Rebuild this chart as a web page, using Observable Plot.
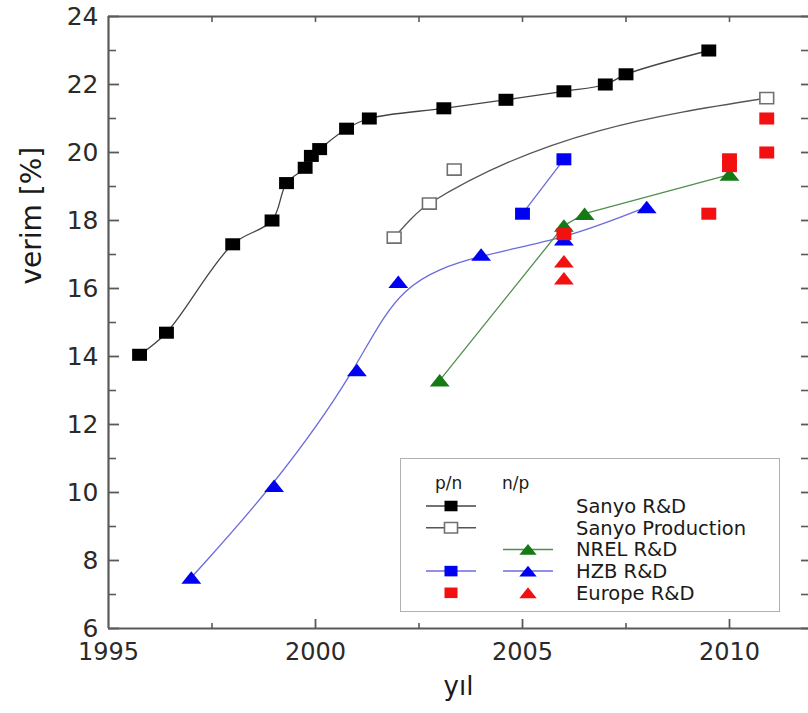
<!DOCTYPE html>
<html>
<head>
<meta charset="utf-8">
<script src="https://cdn.jsdelivr.net/npm/d3@7"></script>
<script src="https://cdn.jsdelivr.net/npm/@observablehq/plot@0.6"></script>
<style>
  body { margin: 0; background: #fff; }
  #wrap { position: relative; width: 808px; height: 713px; overflow: hidden; font-family: "DejaVu Sans", sans-serif; }
  #legend { position: absolute; left: 400px; top: 458px; width: 380px; height: 154px; border: 1.5px solid #b0b0b0; box-sizing: border-box; background: #fff; }
  #legend svg { position: absolute; left: 0; top: 0; }
</style>
</head>
<body>
<div id="wrap"><div id="legend"></div></div>
<script>
// ---- data ----
const sanyoRDYear = [1995.75, 1996.4, 1998.0, 1998.95, 1999.3, 1999.75, 1999.9, 2000.1, 2000.75, 2001.3, 2003.1, 2004.6, 2006.0, 2007.0, 2007.5, 2009.5];
const sanyoRDEff  = [14.05, 14.7, 17.3, 18.0, 19.1, 19.55, 19.9, 20.1, 20.7, 21.0, 21.3, 21.55, 21.8, 22.0, 22.3, 23.0];
const sanyoProdYear = [2001.9, 2002.75, 2003.35, 2010.9];
const sanyoProdEff  = [17.5, 18.5, 19.5, 21.6];
const sanyoProdFitIndex = [0, 1, 3];
const nrelYear = [2003.0, 2006.0, 2006.5, 2010.0];
const nrelEff  = [13.3, 17.85, 18.2, 19.35];
const hzbPnYear = [2005.0, 2006.0];
const hzbPnEff  = [18.2, 19.8];
const hzbNpYear = [1997.0, 1999.0, 2001.0, 2002.0, 2004.0, 2006.0, 2008.0];
const hzbNpEff  = [7.5, 10.2, 13.6, 16.2, 17.0, 17.45, 18.4];
const europePnYear = [2006.0, 2009.5, 2010.0, 2010.0, 2010.9, 2010.9];
const europePnEff  = [17.6, 18.2, 19.8, 19.6, 21.0, 20.0];
const europeNpYear = [2006.0, 2006.0];
const europeNpEff  = [16.8, 16.3];

const yTickLabels = [6, 8, 10, 12, 14, 16, 18, 20, 22, 24];
const yMinorTicks = [7, 9, 11, 13, 15, 17, 19, 21, 23];
const xTickLabels = [1995, 2000, 2005, 2010];
const xMinorTicks = [1997.5, 2002.5, 2007.5];
const xTopTicks = [1997.5, 2000, 2002.5, 2005, 2007.5, 2010];
const yAxisTitle = "verim [%]";
const xAxisTitle = "yıl";

const legendHeaders = ["p/n", "n/p"];
const legendLabels = ["Sanyo R&D", "Sanyo Production", "NREL R&D", "HZB R&D", "Europe R&D"];
const legendPn = ["sanyoRD", "sanyoProd", null, "hzbPn", "europePn"];
const legendNp = [null, null, "nrel", "hzbNp", "europeNp"];

// ---- build tables ----
const pts = (xs, ys) => xs.map((x, i) => ({x, y: ys[i]}));
const sanyoRD = pts(sanyoRDYear, sanyoRDEff);
const sanyoProd = pts(sanyoProdYear, sanyoProdEff);
const sanyoProdFit = sanyoProdFitIndex.map(i => sanyoProd[i]);
const nrel = pts(nrelYear, nrelEff);
const hzbPn = pts(hzbPnYear, hzbPnEff);
const hzbNp = pts(hzbNpYear, hzbNpEff);
const europePn = pts(europePnYear, europePnEff);
const europeNp = pts(europeNpYear, europeNpEff);

// ---- symbols & styles ----
const rectSym = {draw(ctx, size) { const s = Math.sqrt(size); const w = s * 1.05, h = s * 0.85; ctx.rect(-w / 2, -h / 2, w, h); }};
const triSym = {draw(ctx, size) { const s = Math.sqrt(size); const w = s * 1.4, h = s * 0.88; ctx.moveTo(0, -h / 2); ctx.lineTo(w / 2, h / 2); ctx.lineTo(-w / 2, h / 2); ctx.closePath(); }};

const styles = {
  sanyoRD:   {sym: rectSym, fill: "#000", stroke: "none", line: "#444", r: 8},
  sanyoProd: {sym: rectSym, fill: "#fff", stroke: "#707070", line: "#555", r: 7.4, sw: 1.6},
  nrel:      {sym: triSym, fill: "#157a15", stroke: "none", line: "#4f8f4f", r: 8},
  hzbPn:     {sym: rectSym, fill: "#0000f2", stroke: "none", line: "#6b6bdc", r: 8},
  hzbNp:     {sym: triSym, fill: "#0000f2", stroke: "none", line: "#6b6bdc", r: 8},
  europePn:  {sym: rectSym, fill: "#f21010", stroke: "none", line: null, r: 8},
  europeNp:  {sym: triSym, fill: "#f21010", stroke: "none", line: null, r: 8}
};

const xMax = 1995 + 700 / 41.4;
const axisColor = "#5a5a5a";

function dots(data, key) {
  const s = styles[key];
  return Plot.dot(data, {x: "x", y: "y", symbol: s.sym, r: s.r, fill: s.fill, stroke: s.stroke, strokeWidth: s.sw || 1});
}

const chart = Plot.plot({
  width: 808, height: 713,
  marginLeft: 108, marginRight: 0, marginTop: 16, marginBottom: 85,
  x: {domain: [1995, xMax]},
  y: {domain: [6, 24]},
  style: {fontFamily: "DejaVu Sans, sans-serif", background: "transparent", overflow: "visible"},
  marks: [
    // frame lines
    Plot.ruleX([1995], {stroke: axisColor, strokeWidth: 2.2}),
    Plot.ruleY([6, 24], {stroke: axisColor, strokeWidth: 2.2}),
    // ticks (inward)
    Plot.tickY(yTickLabels, {y: d => d, insetRight: 700 - 11, stroke: axisColor, strokeWidth: 1.8}),
    Plot.tickY(yMinorTicks, {y: d => d, insetRight: 700 - 8, stroke: axisColor, strokeWidth: 1.6}),
    Plot.tickY(yTickLabels, {y: d => d, insetLeft: 700 - 7, stroke: axisColor, strokeWidth: 1.8}),
    Plot.tickY(yMinorTicks, {y: d => d, insetLeft: 700 - 7, stroke: axisColor, strokeWidth: 1.6}),
    Plot.tickX(xTickLabels.slice(1), {x: d => d, insetTop: 612 - 9, stroke: axisColor, strokeWidth: 1.8}),
    Plot.tickX(xMinorTicks, {x: d => d, insetTop: 612 - 5, stroke: axisColor, strokeWidth: 1.6}),
    Plot.tickX(xTopTicks, {x: d => d, insetBottom: 612 - 6, stroke: axisColor, strokeWidth: 1.6}),
    // axes labels
    Plot.axisY(yTickLabels, {tickSize: 0, tickPadding: 10, fontSize: 25, fill: "#2a2a2a", label: null}),
    Plot.axisX(xTickLabels, {tickSize: 0, tickPadding: 14, fontSize: 24, fill: "#2a2a2a", tickFormat: d => String(d), label: null}),
    Plot.text([yAxisTitle], {text: d => d, frameAnchor: "left", rotate: -90, dx: -76, dy: -38, fontSize: 28, fill: "#1a1a1a"}),
    Plot.text([xAxisTitle], {text: d => d, frameAnchor: "bottom", dy: 66, fontSize: 26, fill: "#1a1a1a"}),
    // lines
    Plot.line(sanyoRD, {x: "x", y: "y", curve: "catmull-rom", stroke: styles.sanyoRD.line, strokeWidth: 1.3}),
    Plot.line(sanyoProdFit, {x: "x", y: "y", curve: "monotone-x", stroke: styles.sanyoProd.line, strokeWidth: 1.3}),
    Plot.line(hzbNp, {x: "x", y: "y", curve: "basis", stroke: styles.hzbNp.line, strokeWidth: 1.3}),
    Plot.line(hzbPn, {x: "x", y: "y", stroke: styles.hzbPn.line, strokeWidth: 1.3}),
    Plot.line(nrel, {x: "x", y: "y", stroke: styles.nrel.line, strokeWidth: 1.3}),
    // markers
    dots(sanyoRD, "sanyoRD"),
    dots(sanyoProd, "sanyoProd"),
    dots(hzbPn, "hzbPn"),
    dots(hzbNp, "hzbNp"),
    dots(nrel, "nrel"),
    dots(europeNp, "europeNp"),
    dots(europePn, "europePn")
  ]
});
chart.style.position = "absolute";
chart.style.left = "0px";
chart.style.top = "0px";
const wrap = document.getElementById("wrap");
wrap.insertBefore(chart, wrap.firstChild);

// ---- legend ----
const lg = d3.select("#legend").append("svg").attr("width", 380).attr("height", 154)
  .style("font-family", "DejaVu Sans, sans-serif");
const colX = [50, 127];
const hdrX = [34, 101];
lg.selectAll("text.hdr").data(legendHeaders).join("text").attr("class", "hdr")
  .attr("x", (d, i) => hdrX[i]).attr("y", 30).attr("font-size", 17).attr("fill", "#1a1a1a").text(d => d);
const rowY = (i) => 47 + i * 21.7;
legendLabels.forEach((lab, i) => {
  const y = rowY(i);
  lg.append("text").attr("x", 175).attr("y", y).attr("dy", "0.36em").attr("font-size", 19.5).attr("fill", "#1a1a1a").text(lab);
  [legendPn[i], legendNp[i]].forEach((key, c) => {
    if (!key) return;
    const s = styles[key];
    const cx = colX[c];
    if (s.line) lg.append("line").attr("x1", cx - 25).attr("x2", cx + 25).attr("y1", y).attr("y2", y).attr("stroke", s.line).attr("stroke-width", 1.5);
    const size = Math.PI * 7 * 7;
    lg.append("path").attr("transform", `translate(${cx},${y})`)
      .attr("d", d3.symbol(s.sym, size)())
      .attr("fill", s.fill).attr("stroke", s.stroke).attr("stroke-width", s.sw || 1);
  });
});
</script>
</body>
</html>
